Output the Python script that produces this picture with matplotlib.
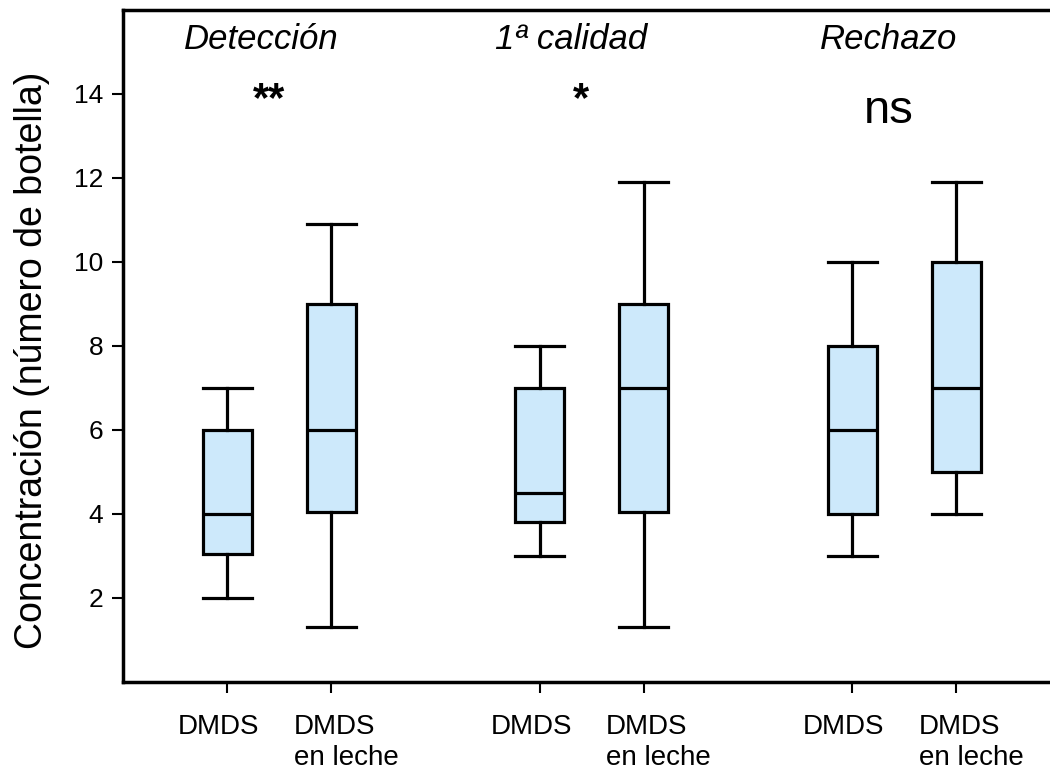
import matplotlib
matplotlib.use('Agg')
import matplotlib.pyplot as plt

plt.rcParams['font.family'] = ['Liberation Sans', 'DejaVu Sans']

# box statistics (one entry per box)
groups = ['Detección', '1ª calidad', 'Rechazo']
signif = ['**', '*', 'ns']
labels = ['DMDS', 'DMDS\nen leche'] * 3
positions = [1, 2, 4, 5, 7, 8]
whislo = [2.0, 1.3, 3.0, 1.3, 3.0, 4.0]
q1 = [3.05, 4.05, 3.8, 4.05, 4.0, 5.0]
med = [4.0, 6.0, 4.5, 7.0, 6.0, 7.0]
q3 = [6.0, 9.0, 7.0, 9.0, 8.0, 10.0]
whishi = [7.0, 10.9, 8.0, 11.9, 10.0, 11.9]

stats = []
for i in range(len(positions)):
    stats.append({'whislo': whislo[i], 'q1': q1[i], 'med': med[i],
                  'q3': q3[i], 'whishi': whishi[i], 'fliers': []})

fig = plt.figure(figsize=(10.5, 7.78), dpi=100)
ax = fig.add_axes([0.117, 0.1234, 0.883, 0.864])

lw = 2.3
ax.bxp(stats, positions=positions, widths=0.47, patch_artist=True,
       showfliers=False, capwidths=0.47,
       boxprops=dict(facecolor='#cde9fb', edgecolor='black', linewidth=lw),
       medianprops=dict(color='black', linewidth=lw),
       whiskerprops=dict(color='black', linewidth=lw),
       capprops=dict(color='black', linewidth=lw))

ax.set_xlim(0, 8.9)
ax.set_ylim(0, 16)
ax.set_yticks([2, 4, 6, 8, 10, 12, 14])
ax.set_xticks(positions)
ax.set_xticklabels([])

# x labels drawn by hand: single ones centred, two-line ones left aligned
xt = ax.get_xaxis_transform()
for k, pos in enumerate(positions):
    if k % 2 == 0:
        ax.text(pos - 0.08, -0.047, labels[k], transform=xt, fontsize=20,
                ha='center', va='top')
    else:
        ax.text(pos - 0.36, -0.047, labels[k], transform=xt, fontsize=20,
                ha='left', va='top', linespacing=1.25)

ax.tick_params(axis='both', direction='out', length=8, width=1.5)
ax.tick_params(axis='y', pad=6, labelsize=19)
for s in ['left', 'bottom', 'top']:
    ax.spines[s].set_linewidth(2.5)
ax.spines['right'].set_visible(False)

ax.set_ylabel('Concentración (número de botella)', fontsize=27)
ax.yaxis.set_label_coords(-0.079, 0.478)

title_x = [1.33, 4.3, 7.35]
sig_x = [1.4, 4.4, 7.35]
sig_y = [13.85, 13.85, 13.6]
sig_size = [30, 30, 34]
sig_weight = ['bold', 'bold', 'normal']
for g in range(3):
    ax.text(title_x[g], 15.3, groups[g], fontsize=25, style='italic',
            ha='center', va='center')
    ax.text(sig_x[g], sig_y[g], signif[g], fontsize=sig_size[g],
            fontweight=sig_weight[g], ha='center', va='center')

fig.savefig('out.png', dpi=100)
